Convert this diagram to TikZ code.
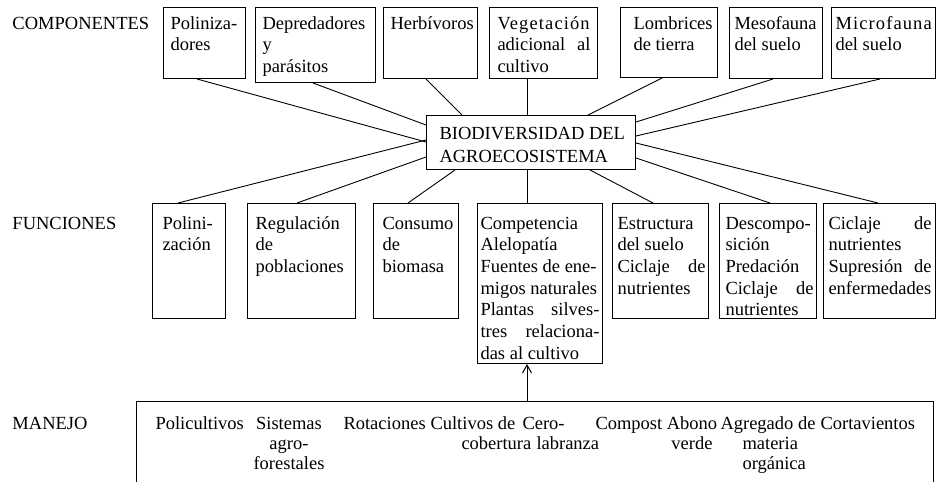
\documentclass[tikz,border=0pt]{standalone}
\usepackage{fontspec}
\setmainfont{Liberation Serif}
\usetikzlibrary{arrows.meta,calc}
\newcommand\fsz{\fontsize{18.5}{21.7}\selectfont}
\newcommand\fszm{\fontsize{18.5}{20}\selectfont}
\newcommand\spread{\addfontfeatures{LetterSpace=6}}
\newcommand\mybox[5]{\node[bx, minimum width=#4pt, minimum height=#5pt] (#1) at (#2,#3) {};}
\begin{document}
\begin{tikzpicture}[x=1pt,y=-1pt,line width=1pt,
  bx/.style={draw, anchor=north west, inner sep=0pt, line width=1pt},
  tx/.style={anchor=base west, inner sep=0pt, font=\fsz},
  txm/.style={anchor=base west, inner sep=0pt, font=\fszm},
  txc/.style={anchor=base, inner sep=0pt, font=\fszm},
  conn/.style={line width=0.9pt}]
\useasboundingbox (0,0) rectangle (937,482);
\def\arraystretch{1}
% labels
\node[tx] (lcomp) at (12,29) {COMPONENTES};
\node[tx] (lfunc) at (12,229) {FUNCIONES};
\node[txm] (lman) at (12,429) {MANEJO};
% top boxes
\mybox{pol}{163}{7}{82}{71}
\mybox{dep}{255}{7}{120}{75}
\mybox{her}{383}{7}{94}{71}
\mybox{veg}{489}{7}{108}{71}
\mybox{lom}{620}{7}{97}{70}
\mybox{mes}{729}{7}{93}{71}
\mybox{mic}{831}{7}{104}{71}
\node[tx] (tpol) at (170,29) {\begin{tabular}[t]{@{}l@{}}Poliniza-\\dores\end{tabular}};
\node[tx] (tdep) at (262,29) {\begin{tabular}[t]{@{}l@{}}Depredadores\\y\\parásitos\end{tabular}};
\node[tx] (ther) at (390,29) {Herbívoros};
\node[tx] (tveg) at (497,29) {\begin{tabular}[t]{@{}l@{}}{\spread Vegetación}\\\makebox[93pt][s]{adicional al}\\cultivo\end{tabular}};
\node[tx] (tlom) at (633,29) {\begin{tabular}[t]{@{}l@{}}Lombrices\\de tierra\end{tabular}};
\node[tx] (tmes) at (734,29) {\begin{tabular}[t]{@{}l@{}}Mesofauna\\del suelo\end{tabular}};
\node[tx] (tmic) at (835,29) {\begin{tabular}[t]{@{}l@{}}{\spread Microfauna}\\del suelo\end{tabular}};
% center box
\mybox{bio}{426}{115}{209}{54}
\node[anchor=base west, inner sep=0pt, font=\fontsize{18.5}{23}\selectfont] (tbio) at (439,139) {\begin{tabular}[t]{@{}l@{}}BIODIVERSIDAD DEL\\AGROECOSISTEMA\end{tabular}};
% function boxes
\mybox{fpol}{152}{203}{73}{115}
\mybox{freg}{247}{203}{108}{115}
\mybox{fcon}{373}{203}{85}{115}
\mybox{fcom}{477}{203}{125}{160}
\mybox{fest}{612}{203}{96}{115}
\mybox{fdes}{719}{203}{97}{115}
\mybox{fcic}{823}{203}{112}{115}
\node[tx] (tfpol) at (162,229) {\begin{tabular}[t]{@{}l@{}}Polini-\\zación\end{tabular}};
\node[tx] (tfreg) at (255,229) {\begin{tabular}[t]{@{}l@{}}Regulación\\de\\poblaciones\end{tabular}};
\node[tx] (tfcon) at (382,229) {\begin{tabular}[t]{@{}l@{}}Consumo\\de\\biomasa\end{tabular}};
\node[tx] (tfcom) at (480,229) {\begin{tabular}[t]{@{}l@{}}Competencia\\Alelopatía\\Fuentes de ene-\\migos naturales\\\makebox[119pt][s]{Plantas silves-}\\\makebox[119pt][s]{tres relaciona-}\\das al cultivo\end{tabular}};
\node[tx] (tfest) at (617,229) {\begin{tabular}[t]{@{}l@{}}Estructura\\del suelo\\\makebox[88pt][s]{Ciclaje de}\\nutrientes\end{tabular}};
\node[tx] (tfdes) at (725,229) {\begin{tabular}[t]{@{}l@{}}Descompo-\\sición\\Predación\\\makebox[88pt][s]{Ciclaje de}\\nutrientes\end{tabular}};
\node[tx] (tfcic) at (828,229) {\begin{tabular}[t]{@{}l@{}}\makebox[103pt][s]{Ciclaje de}\\nutrientes\\\makebox[103pt][s]{Supresión de}\\enfermedades\end{tabular}};
% manejo frame
\draw (136,482) -- (136,401) -- (933,401) -- (933,482);
\coordinate (mtop) at (527,401);
\node[txm] (m1) at (155,429) {Policultivos};
\node[txc] (m2) at (289,429) {\begin{tabular}[t]{@{}c@{}}Sistemas\\agro-\\forestales\end{tabular}};
\node[txm] (m3) at (343,429) {Rotaciones};
\node[txm] (m4) at (430,429) {\begin{tabular}[t]{@{}l@{}}Cultivos de\\\hspace*{31pt}cobertura\end{tabular}};
\node[txm] (m5) at (522,429) {\begin{tabular}[t]{@{}l@{}}Cero-\\\hspace*{14pt}labranza\end{tabular}};
\node[txm] (m6) at (595,429) {Compost};
\node[txc] (m7) at (692,429) {\begin{tabular}[t]{@{}c@{}}Abono\\verde\end{tabular}};
\node[txm] (m8) at (720,429) {\begin{tabular}[t]{@{}l@{}}Agregado de\\\hspace*{22pt}materia\\\hspace*{22pt}orgánica\end{tabular}};
\node[txm] (m9) at (820,429) {Cortavientos};
% arrow
\draw[-{Straight Barb[length=8pt,width=9pt]}] (mtop) -- (mtop |- fcom.south);
% connectors top
\draw[conn] ($(pol.south west)+(34,0)$) -- ($(bio.north west)+(0,27)$);
\draw[conn] ($(dep.south west)+(58,0)$) -- ($(bio.north west)+(0,10)$);
\draw[conn] ($(her.south west)+(43,0)$) -- ($(bio.north west)+(36,0)$);
\draw[conn] ($(veg.south west)+(38,0)$) -- ($(bio.north west)+(101,0)$);
\draw[conn] ($(lom.south west)+(42,0)$) -- ($(bio.north west)+(162,0)$);
\draw[conn] ($(mes.south west)+(44,0)$) -- ($(bio.north east)+(0,7)$);
\draw[conn] ($(mic.south west)+(49,0)$) -- ($(bio.north east)+(0,21)$);
% connectors bottom
\draw[conn] ($(fpol.north west)+(26,0)$) -- ($(bio.north west)+(0,25)$);
\draw[conn] ($(freg.north west)+(50,0)$) -- ($(bio.north west)+(0,42)$);
\draw[conn] ($(fcon.north west)+(35,0)$) -- ($(bio.south west)+(29,0)$);
\draw[conn] ($(fcom.north west)+(50,0)$) -- ($(bio.south west)+(101,0)$);
\draw[conn] ($(fest.north west)+(41,0)$) -- ($(bio.south west)+(164,0)$);
\draw[conn] ($(fdes.north west)+(51,0)$) -- ($(bio.north east)+(0,43)$);
\draw[conn] ($(fcic.north west)+(55,0)$) -- ($(bio.north east)+(0,28)$);
\end{tikzpicture}
\end{document}
